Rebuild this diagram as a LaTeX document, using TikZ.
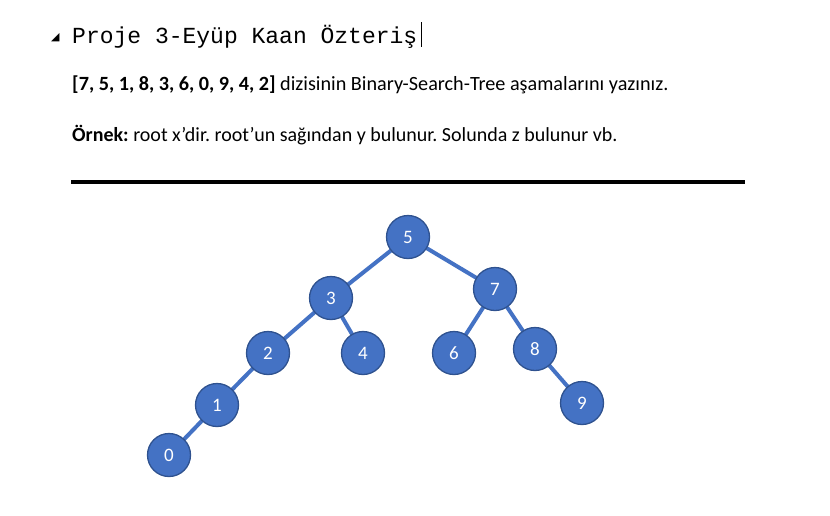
\documentclass[tikz,border=0pt]{standalone}
\usepackage{fontspec}
\setmainfont[Ligatures=NoCommon]{Carlito}
\newfontfamily\monof{Liberation Mono}
\newfontfamily\symf{DejaVu Sans}
\definecolor{nodeblue}{HTML}{4472C4}
\definecolor{nodeedge}{HTML}{2F528F}
\newcommand{\sq}{\char"27\relax}
\begin{document}
\frenchspacing
\begin{tikzpicture}[x=1pt,y=-1pt,
  bstnode/.style={circle,fill=nodeblue,draw=nodeedge,line width=1.3pt,minimum size=43pt,inner sep=0pt,text=white,font=\fontsize{19}{19}\selectfont},
  bstedge/.style={draw=nodeblue,line width=4pt},
  txt/.style={anchor=base west,inner sep=0pt}]
\useasboundingbox (0,0) rectangle (830,515);
\node[txt,font=\symf\fontsize{11}{11}\selectfont] (tri) at (51,40) {◢};
\node[txt,font=\monof\fontsize{23}{23}\selectfont] (title) at (72,43) {Proje 3-Eyüp Kaan Özteriş};
\coordinate (cura) at (421,22);
\coordinate (curb) at (421,47);
\draw[line width=0.8pt] (cura) -- (curb);
\node[txt,font=\fontsize{20.2}{20.2}\selectfont\frenchspacing] (l1) at (72,90) {\textbf{[7, 5, 1, 8, 3, 6, 0, 9, 4, 2]} dizisinin Binary-Search-Tree aşamalarını yazınız.};
\node[txt,font=\fontsize{20}{20}\selectfont\frenchspacing] (l2) at (72,141) {\textbf{Örnek:} root x\sq dir. root\sq un sağından y bulunur. Solunda z bulunur vb.};
\coordinate (hra) at (71,182);
\coordinate (hrb) at (745,182);
\draw[line width=3.5pt] (hra) -- (hrb);
\coordinate (p5) at (408,237);
\coordinate (p3) at (331,298);
\coordinate (p7) at (495,289);
\coordinate (p2) at (268,353);
\coordinate (p4) at (363,353);
\coordinate (p6) at (454,353);
\coordinate (p8) at (535,349);
\coordinate (p1) at (217,405);
\coordinate (p9) at (582,403);
\coordinate (p0) at (169,455);
\draw[bstedge] (p5) -- (p3) (p5) -- (p7) (p3) -- (p2) (p3) -- (p4) (p7) -- (p6) (p7) -- (p8) (p2) -- (p1) (p1) -- (p0) (p8) -- (p9);
\foreach \n in {0,...,9} {\node[bstnode] (n\n) at ([xshift=0pt]p\n) {\n};}
\end{tikzpicture}
\end{document}
